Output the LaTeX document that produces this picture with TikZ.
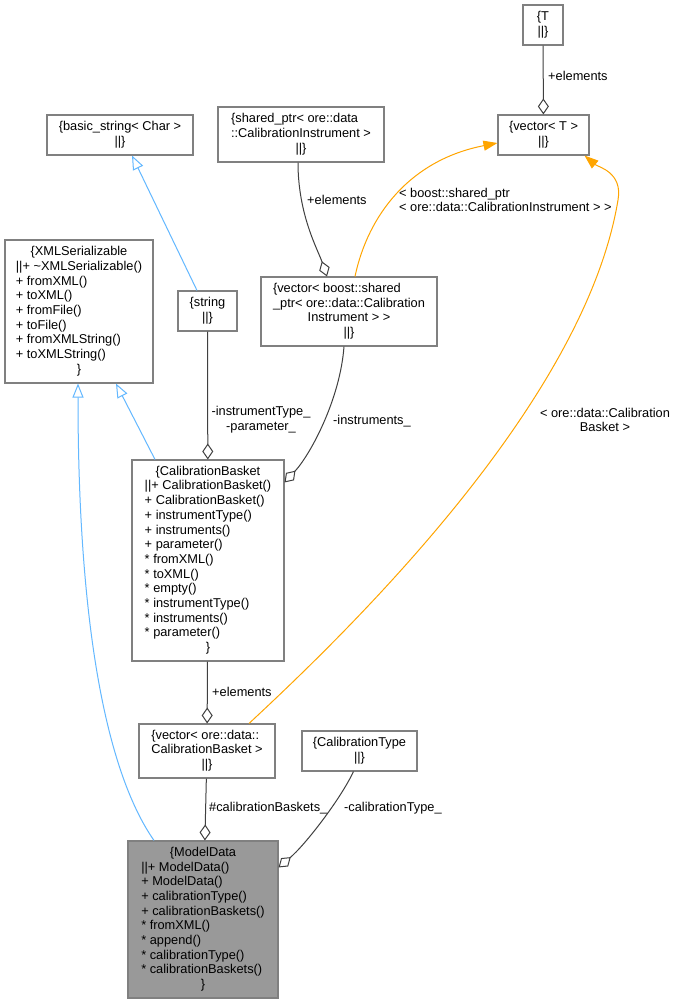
\documentclass[tikz,border=0pt]{standalone}
\usepackage{fontspec}
\setmainfont{Liberation Sans}
\usepackage{tikz}
\usetikzlibrary{arrows.meta}
\usepackage{xcolor}
\definecolor{inhblue}{HTML}{63B8FF}
\definecolor{tmplorange}{HTML}{FFA500}
\definecolor{aggrey}{HTML}{404040}
\newcommand\dxfont{\fontsize{12.8}{14.7}\selectfont}
\newcommand\ctrrow[1]{\multicolumn{1}{@{}c@{}}{#1}}
\tikzset{
  cls/.style   = {rectangle, draw=black!50, line width=1.1pt, fill=white,
                  inner sep=0pt, align=center, font=\dxfont},
  focus/.style = {cls, fill=black!40},
  lbl/.style   = {inner sep=0pt, font=\dxfont},
  agg/.style   = {-{Diamond[open, length=16pt, width=11pt]}, line width=1pt, draw=aggrey},
  inh/.style   = {-{Triangle[open, length=14pt, width=11pt]}, line width=1pt, draw=inhblue},
  tmpl/.style  = {-{Triangle[length=14pt, width=10pt]}, line width=1pt, draw=tmplorange},
}

\begin{document}
\begin{tikzpicture}[x=1pt, y=-1pt]
\fill[white] (0,0) rectangle (678,1004);
\useasboundingbox (0,0) rectangle (678,1004);

%% top row
\node[cls, minimum width=40pt, minimum height=40pt] (t) at (543,25) {\{T\\||\}};
\node[cls, minimum width=91pt, minimum height=40pt] (vect) at (543.5,135) {\{vector< T >\\||\}};
\node[cls, minimum width=146pt, minimum height=40pt] (bstr) at (120,135) {\{basic\_string< Char >\\||\}};
\node[cls, minimum width=166pt, minimum height=55pt] (shptr) at (301,134.5)
  {\begin{tabular}{@{}l@{}}\{shared\_ptr< ore::data\\::CalibrationInstrument >\\\ctrrow{||\}}\end{tabular}};

%% middle row
\node[cls, minimum width=148pt, minimum height=143pt] (xmls) at (79,311.5)
  {\begin{tabular}{@{}l@{}}\ctrrow{\{XMLSerializable}\\||+ \textasciitilde XMLSerializable()\\+ fromXML()\\
   + toXML()\\+ fromFile()\\+ toFile()\\+ fromXMLString()\\+ toXMLString()\\\ctrrow{\}}\end{tabular}};
\node[cls, minimum width=59pt, minimum height=40pt] (str) at (207.5,311) {\{string\\||\}};
\node[cls, minimum width=176pt, minimum height=69pt] (vecbst) at (349,311.5)
  {\begin{tabular}{@{}l@{}}\{vector< boost::shared\\\_ptr< ore::data::Calibration\\
   \ctrrow{Instrument > >}\\\ctrrow{||\}}\end{tabular}};

%% basket
\node[cls, minimum width=152pt, minimum height=201pt] (cb) at (208,560.5)
  {\begin{tabular}{@{}l@{}}\ctrrow{\{CalibrationBasket}\\||+ CalibrationBasket()\\+ CalibrationBasket()\\
   + instrumentType()\\+ instruments()\\+ parameter()\\{}* fromXML()\\{}* toXML()\\{}* empty()\\
   {}* instrumentType()\\{}* instruments()\\{}* parameter()\\\ctrrow{\}}\end{tabular}};

%% bottom row
\node[cls, minimum width=136pt, minimum height=54pt] (veccb) at (207,751)
  {\begin{tabular}{@{}l@{}}\{vector< ore::data::\\CalibrationBasket >\\\ctrrow{||\}}\end{tabular}};
\node[cls, minimum width=115pt, minimum height=40pt] (ctype) at (359.5,751) {\{CalibrationType\\||\}};
\node[focus, minimum width=150pt, minimum height=157pt] (md) at (203,919.5)
  {\begin{tabular}{@{}l@{}}\ctrrow{\{ModelData}\\||+ ModelData()\\+ ModelData()\\+ calibrationType()\\
   + calibrationBaskets()\\{}* fromXML()\\{}* append()\\{}* calibrationType()\\{}* calibrationBaskets()\\
   \ctrrow{\}}\end{tabular}};

%% inheritance
\draw[inh] ([xshift=-10.5pt]str.north) -- ([xshift=12pt]bstr.south);
\draw[inh] ([xshift=-53pt]cb.north) -- ([xshift=37pt]xmls.south);
\draw[inh] ([xshift=-49pt]md.north) .. controls (105,770) and (78,620) .. ([xshift=-1pt]xmls.south);

%% aggregation
\draw[agg] (t) -- (vect);
\draw[agg] ([xshift=-3pt]shptr.south) .. controls (298,215) and (318,250) .. ([xshift=-22pt]vecbst.north);
\draw[agg] (str) -- (cb);
\draw[agg] ([xshift=-5pt]vecbst.south) .. controls (340,400) and (310,455) .. ([yshift=-23pt]cb.north east);
\draw[agg] (cb) -- (veccb);
\draw[agg] (veccb) -- (md);
\draw[agg] ([xshift=-6pt]ctype.south) .. controls (340,800) and (305,845) .. ([yshift=-27pt]md.north east);

%% template instances
\draw[tmpl] ([xshift=6pt]vecbst.north) .. controls (368,215) and (410,160) .. ([yshift=-8pt]vect.west);
\draw[tmpl] ([xshift=42pt]veccb.north) .. controls (355,625) and (585,400) .. (618,200)
  .. controls (623,172) and (598,167) .. ([xshift=41pt]vect.south);

%% labels
\node[lbl, anchor=west] (lelt) at (548,76) {+elements};
\node[lbl, anchor=west] (lelsp) at (307,200) {+elements};
\node[lbl, anchor=west, align=left] (lshp) at (399,200) {< boost::shared\_ptr\\< ore::data::CalibrationInstrument > >};
\node[lbl, align=center] (lcbk) at (605,420) {< ore::data::Calibration\\Basket >};
\node[lbl, align=center] (ltype) at (261,420) {-instrumentType\_\\-parameter\_};
\node[lbl, anchor=west] (linst) at (333,421) {-instruments\_};
\node[lbl, anchor=west] (lelcb) at (212,692) {+elements};
\node[lbl, anchor=west] (lbsk) at (209,808) {\#calibrationBaskets\_};
\node[lbl, anchor=west] (lctp) at (344,808) {-calibrationType\_};

\end{tikzpicture}
\end{document}
